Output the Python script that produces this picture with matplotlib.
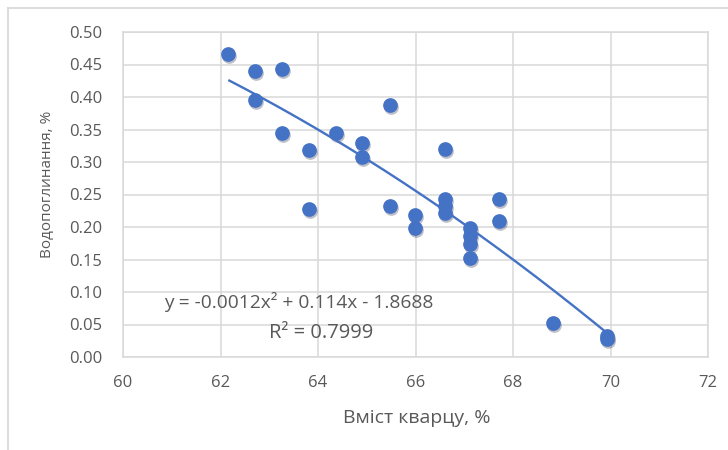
import numpy as np
import matplotlib
matplotlib.use("Agg")
import matplotlib.pyplot as plt
import matplotlib.transforms as mtransforms
from matplotlib.lines import Line2D

# Data
quartz = [62.16, 62.70, 62.70, 63.27, 63.27, 63.81, 63.81, 64.37, 64.90, 64.90,
          65.48, 65.48, 65.98, 65.98, 66.60, 66.60, 66.60, 66.60, 67.12, 67.12,
          67.12, 67.12, 67.72, 67.72, 68.82, 69.93, 69.93]
absorption = [0.466, 0.440, 0.395, 0.443, 0.344, 0.318, 0.228, 0.344, 0.329, 0.307,
              0.387, 0.232, 0.218, 0.198, 0.320, 0.243, 0.232, 0.222, 0.198, 0.186,
              0.174, 0.153, 0.243, 0.209, 0.053, 0.033, 0.028]
x_ticks = [60, 62, 64, 66, 68, 70, 72]
y_ticks = [0.00, 0.05, 0.10, 0.15, 0.20, 0.25, 0.30, 0.35, 0.40, 0.45, 0.50]
eq_text = "y = -0.0012x\u00b2 + 0.114x - 1.8688"
r2_text = "R\u00b2 = 0.7999"

plt.rcParams['font.family'] = ['Open Sans', 'DejaVu Sans']
grey = '#595959'
blue = '#4472C4'
grid_c = '#D9D9D9'

W, H = 728, 450
fig = plt.figure(figsize=(W / 100, H / 100), dpi=100)
ax = fig.add_axes([123 / W, 1 - 357 / H, (708 - 123) / W, (357 - 32) / H])

ax.set_xlim(60, 72)
ax.set_ylim(0, 0.5)
ax.set_xticks(x_ticks)
ax.set_yticks(y_ticks)
ax.set_xticklabels([str(t) for t in x_ticks])
ax.set_yticklabels([f"{t:.2f}" for t in y_ticks])
ax.tick_params(length=0, labelsize=12, colors=grey)
ax.tick_params(axis='x', pad=13)
ax.tick_params(axis='y', pad=15)
ax.grid(True, color=grid_c, lw=1.1)
ax.set_axisbelow(True)
for s in ax.spines.values():
    s.set_color(grid_c)
    s.set_linewidth(1.1)

# shadow of markers
shadow = mtransforms.offset_copy(ax.transData, fig=fig, x=1.0, y=-2.0, units='dots')
ax.scatter(quartz, absorption, s=112, color='#1a1a40', alpha=0.28, transform=shadow,
           linewidths=0, zorder=2)
ax.scatter(quartz, absorption, s=112, color=blue, linewidths=0, zorder=3)

# polynomial trendline (order 2)
coef = np.polyfit(quartz, absorption, 2)
xs = np.linspace(min(quartz), max(quartz), 200)
ax.plot(xs, np.polyval(coef, xs), color=blue, lw=1.7, zorder=4, solid_capstyle='butt')

fig.text(299 / W, 1 - 302 / H, eq_text, fontsize=13.8, color=grey, ha='center', va='center')
fig.text(321 / W, 1 - 333 / H, r2_text, fontsize=14.5, color=grey, ha='center', va='center')

fig.text(417 / W, 1 - 418 / H, "Вміст кварцу, %", fontsize=14, color=grey,
         ha='center', va='center')
fig.text(48 / W, 1 - 184 / H, "Водопоглинання, %", fontsize=11, color=grey,
         ha='center', va='center', rotation=90)

# chart frame (top and left visible)
fig.add_artist(Line2D([8 / W, 1], [1 - 8 / H, 1 - 8 / H], transform=fig.transFigure,
                      color='#D9D9D9', lw=1.3))
fig.add_artist(Line2D([8 / W, 8 / W], [0, 1 - 8 / H], transform=fig.transFigure,
                      color='#D9D9D9', lw=1.3))

fig.savefig("out.png", dpi=100)
